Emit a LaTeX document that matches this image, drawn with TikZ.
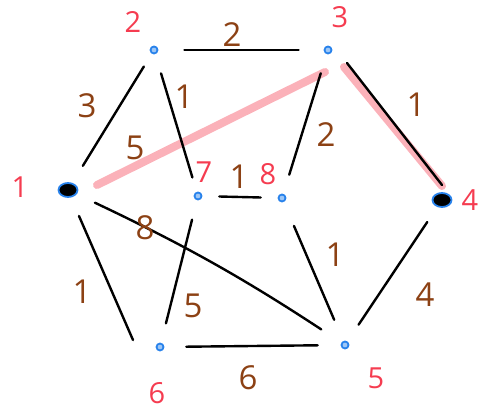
\documentclass[tikz,border=0pt]{standalone}
\usepackage{fontspec}
\setsansfont{Open Sans}
\usepackage{tikz}
\usetikzlibrary{arrows.meta,positioning,calc,shapes.geometric}

\definecolor{vblue}{RGB}{40,130,235}
\definecolor{wbrown}{RGB}{140,65,20}
\definecolor{lred}{RGB}{245,60,80}

\begin{document}
\begin{tikzpicture}[x=1pt,y=-1pt,
  vx/.style={circle,draw=vblue,fill=vblue!45,line width=1.8pt,minimum size=7pt,inner sep=0pt},
  big/.style={ellipse,draw=vblue,fill=black,line width=1.8pt,minimum width=19pt,minimum height=14pt,inner sep=0pt},
  ed/.style={line width=2.4pt,line cap=round,shorten <=20pt,shorten >=20pt},
  hl/.style={line width=8pt,lred,opacity=0.4,line cap=round},
  wt/.style={font=\sffamily\fontsize{33}{35}\selectfont,text=wbrown},
  nl/.style={font=\sffamily\fontsize{29}{31}\selectfont,text=lred}]
  \useasboundingbox (0,0) rectangle (488,417);
  \node[big] (v1) at (68,190) {};
  \node[vx] (v2) at (154,50) {};
  \node[vx] (v3) at (328,50) {};
  \node[big] (v4) at (442,200) {};
  \node[vx] (v5) at (345,345) {};
  \node[vx] (v6) at (160,347) {};
  \node[vx] (v7) at (198,196) {};
  \node[vx] (v8) at (282,198) {};
  % highlighted path
  \draw[hl] ($(v1)+(29,-5)$) -- ($(v3)+(-3,22)$);
  \draw[hl] ($(v3)+(16,17)$) -- ($(v4)+(0,-14)$);
  % edges
  \draw[ed,shorten <=26pt,shorten >=25pt] (v2) -- (v3);
  \draw[ed,shorten >=15pt] (v1) -- (v2);
  \draw[ed,shorten >=15pt] (v2) -- (v7);
  \draw[ed] (v3) -- (v8);
  \draw[ed,shorten <=0pt,shorten >=0pt] ($(v3)+(19,13)$) -- ($(v4)+(0,-15)$);
  \draw[ed,shorten <=17pt,shorten >=17pt] (v7) -- (v8);
  \draw[ed,shorten >=24pt] (v1) to[bend left=4] (v5);
  \draw[ed,shorten <=0pt,shorten >=0pt] ($(v1)+(11,26)$) -- ($(v6)+(-27,-7)$);
  \draw[ed] (v7) -- (v6);
  \draw[ed,shorten <=22pt,shorten >=23pt] (v6) -- (v5);
  \draw[ed,shorten <=26pt,shorten >=23pt] (v8) -- (v5);
  \draw[ed,shorten <=18pt] (v4) -- (v5);
  % weights
  \node[wt] (w23) at (232,35) {2};
  \node[wt] (w12) at (87,106) {3};
  \node[wt] (w27) at (184,97) {1};
  \node[wt] (w13) at (135,148) {5};
  \node[wt] (w38) at (326,135) {2};
  \node[wt] (w34) at (416,105) {1};
  \node[wt] (w78) at (239,177) {1};
  \node[wt] (w15) at (145,228) {8};
  \node[wt] (w16) at (82,292) {1};
  \node[wt] (w76) at (193,306) {5};
  \node[wt] (w65) at (248,378) {6};
  \node[wt] (w85) at (335,255) {1};
  \node[wt] (w45) at (425,295) {4};
  % vertex names
  \node[nl] (n1) at (20,187) {1};
  \node[nl] (n2) at (133,22) {2};
  \node[nl] (n3) at (340,17) {3};
  \node[nl] (n4) at (470,200) {4};
  \node[nl] (n5) at (376,378) {5};
  \node[nl] (n6) at (157,393) {6};
  \node[nl] (n7) at (204,172) {7};
  \node[nl] (n8) at (268,174) {8};
\end{tikzpicture}
\end{document}
